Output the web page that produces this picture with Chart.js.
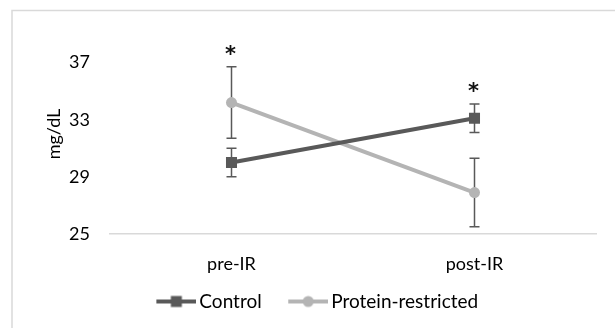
<!DOCTYPE html>
<html>
<head>
<meta charset="utf-8">
<script src="https://cdn.jsdelivr.net/npm/chart.js@4/dist/chart.umd.min.js"></script>
<style>
  html, body { margin: 0; padding: 0; background: #fff; }
  #wrap { position: relative; width: 615px; height: 328px; }
</style>
</head>
<body>
<div id="wrap"><canvas id="irChart" width="615" height="328"></canvas></div>
<script>
// chart data
const categories = ["pre-IR", "post-IR"];
const controlMean = [30.0, 33.1];
const controlErr = [1.0, 1.0];
const proteinMean = [34.2, 27.9];
const proteinErr = [2.5, 2.4];
const yTicks = [25, 29, 33, 37];
const stars = ["*", "*"];

const darkGray = "#595959";
const lightGray = "#b4b4b4";
const fontName = "Lato, 'DejaVu Sans', sans-serif";

// line+marker icon for the legend (line sits at the right of the image)
function legendIcon(color, shape) {
  const c = document.createElement("canvas");
  c.width = 63;
  c.height = 14;
  const ctx = c.getContext("2d");
  ctx.strokeStyle = color;
  ctx.lineWidth = 4;
  ctx.beginPath();
  ctx.moveTo(23, 7);
  ctx.lineTo(63, 7);
  ctx.stroke();
  ctx.fillStyle = color;
  if (shape === "rect") {
    ctx.fillRect(37.5, 1.5, 11, 11);
  } else {
    ctx.beginPath();
    ctx.arc(43, 7, 5.5, 0, Math.PI * 2);
    ctx.fill();
  }
  return c;
}

// error bars drawn behind the lines
const errorBars = {
  id: "errorBars",
  beforeDatasetsDraw(chart) {
    const ctx = chart.ctx;
    const y = chart.scales.y;
    ctx.save();
    ctx.strokeStyle = darkGray;
    ctx.lineWidth = 1.5;
    chart.data.datasets.forEach((ds, i) => {
      const meta = chart.getDatasetMeta(i);
      meta.data.forEach((pt, j) => {
        const top = y.getPixelForValue(ds.data[j] + ds.errors[j]);
        const bot = y.getPixelForValue(ds.data[j] - ds.errors[j]);
        ctx.beginPath();
        ctx.moveTo(pt.x, top);
        ctx.lineTo(pt.x, bot);
        ctx.moveTo(pt.x - 5, top);
        ctx.lineTo(pt.x + 5, top);
        ctx.moveTo(pt.x - 5, bot);
        ctx.lineTo(pt.x + 5, bot);
        ctx.stroke();
      });
    });
    ctx.restore();
  }
};

// significance stars above the highest error bar
const starMarks = {
  id: "starMarks",
  afterDatasetsDraw(chart) {
    const ctx = chart.ctx;
    const y = chart.scales.y;
    const x = chart.scales.x;
    ctx.save();
    ctx.fillStyle = "#111";
    ctx.font = "bold 21px 'DejaVu Sans', sans-serif";
    ctx.textAlign = "center";
    ctx.textBaseline = "alphabetic";
    stars.forEach((s, j) => {
      if (!s) return;
      let hi = -Infinity;
      chart.data.datasets.forEach(ds => {
        hi = Math.max(hi, ds.data[j] + ds.errors[j]);
      });
      ctx.fillText(s, x.getPixelForValue(j) - 1, y.getPixelForValue(hi) - 6);
    });
    ctx.restore();
  }
};

// light frame round the chart
const frame = {
  id: "frame",
  beforeDraw(chart) {
    const ctx = chart.ctx;
    ctx.save();
    ctx.strokeStyle = "#d9d9d9";
    ctx.lineWidth = 1.5;
    ctx.strokeRect(12, 10.5, 700, 400);
    ctx.restore();
  }
};

Chart.defaults.font.family = fontName;
Chart.defaults.color = "#000";

new Chart(document.getElementById("irChart"), {
  type: "line",
  data: {
    labels: categories,
    datasets: [
      {
        label: "Control",
        data: controlMean,
        errors: controlErr,
        borderColor: darkGray,
        backgroundColor: darkGray,
        borderWidth: 4,
        pointStyle: "rect",
        pointRadius: 7.8,
        pointBorderWidth: 0,
        legendIcon: legendIcon(darkGray, "rect")
      },
      {
        label: "Protein-restricted",
        data: proteinMean,
        errors: proteinErr,
        borderColor: lightGray,
        backgroundColor: lightGray,
        borderWidth: 4,
        pointStyle: "circle",
        pointRadius: 5.5,
        pointBorderWidth: 0,
        legendIcon: legendIcon(lightGray, "circle")
      }
    ]
  },
  options: {
    responsive: false,
    animation: false,
    layout: { padding: { top: 34, right: 19, bottom: 7, left: 22 } },
    scales: {
      x: {
        offset: true,
        grid: { display: false, drawTicks: false },
        border: { display: true, color: "#d9d9d9", width: 1.5 },
        ticks: { padding: 19, font: { size: 18 } },
        afterFit(scale) { scale.height = 48; }
      },
      y: {
        min: 25,
        max: 39,
        grid: { display: false, drawTicks: false },
        border: { display: false },
        ticks: { padding: 20, font: { size: 18 } },
        afterBuildTicks(scale) {
          scale.ticks = yTicks.map(v => ({ value: v }));
        },
        title: {
          display: true,
          text: "mg/dL",
          font: { size: 18 },
          padding: { top: 21, bottom: 0 }
        },
        afterFit(scale) { scale.width = 88; }
      }
    },
    plugins: {
      legend: {
        position: "bottom",
        labels: {
          usePointStyle: true,
          pointStyleWidth: 50,
          padding: 10,
          font: { size: 19 },
          generateLabels(chart) {
            return chart.data.datasets.map((ds, i) => ({
              text: ds.label,
              pointStyle: ds.legendIcon,
              fillStyle: ds.backgroundColor,
              strokeStyle: ds.borderColor,
              lineWidth: 0,
              hidden: false,
              datasetIndex: i
            }));
          }
        }
      },
      tooltip: { enabled: false }
    }
  },
  plugins: [frame, errorBars, starMarks]
});
</script>
</body>
</html>
